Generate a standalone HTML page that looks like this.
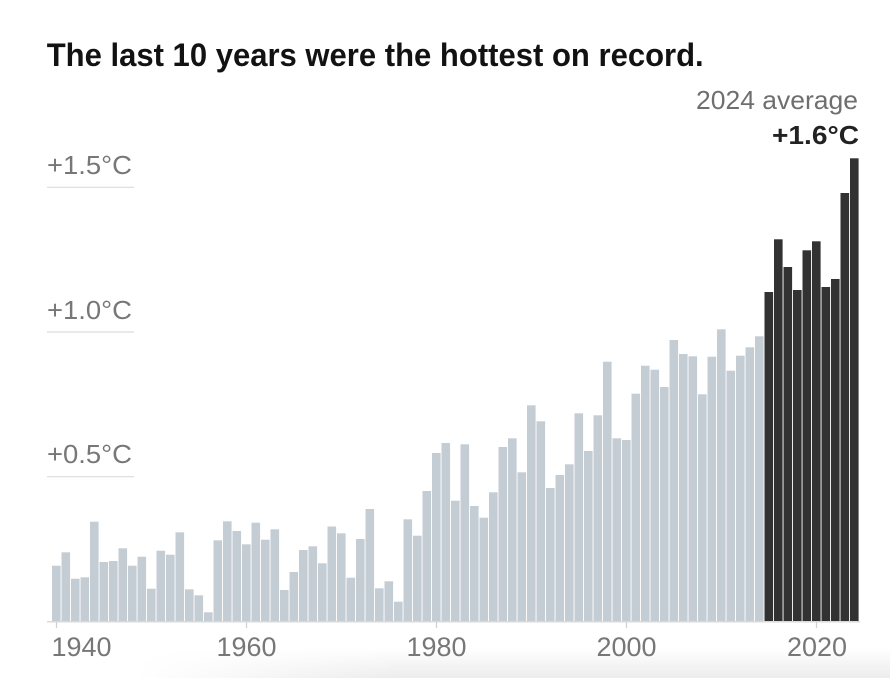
<!DOCTYPE html>
<html>
<head>
<meta charset="utf-8">
<style>
  html, body { margin: 0; padding: 0; background: #fff; }
  body { width: 890px; height: 678px; overflow: hidden; position: relative; }
  svg { display: block; position: absolute; left: 0; top: 0; }
  .shade {
    position: absolute; left: 0; top: 648px; width: 890px; height: 30px;
    background: linear-gradient(to bottom, rgba(0,0,0,0) 0%, rgba(0,0,0,0.075) 100%);
    -webkit-mask-image: linear-gradient(to right, rgba(0,0,0,0) 15%, rgba(0,0,0,1) 45%);
    mask-image: linear-gradient(to right, rgba(0,0,0,0) 15%, rgba(0,0,0,1) 45%);
  }
</style>
</head>
<body>
<div class="shade"></div>
<svg width="890" height="678" viewBox="0 0 890 678" xmlns="http://www.w3.org/2000/svg">
  <text x="46.7" y="66" font-family="Liberation Sans, sans-serif" font-weight="bold" font-size="32.5" fill="#121212" textLength="657" lengthAdjust="spacingAndGlyphs">The last 10 years were the hottest on record.</text>

  <text x="858" y="109" text-anchor="end" font-family="Liberation Sans, sans-serif" font-size="26" fill="#6f6f6f" textLength="162" lengthAdjust="spacingAndGlyphs">2024 average</text>
  <text x="859" y="144" text-anchor="end" font-family="Liberation Sans, sans-serif" font-weight="bold" font-size="26" fill="#222" textLength="87" lengthAdjust="spacingAndGlyphs">+1.6°C</text>

  <g font-family="Liberation Sans, sans-serif" font-size="26" fill="#777">
    <text x="47" y="174" textLength="85" lengthAdjust="spacingAndGlyphs">+1.5°C</text>
    <text x="47" y="319" textLength="85" lengthAdjust="spacingAndGlyphs">+1.0°C</text>
    <text x="47" y="463" textLength="85" lengthAdjust="spacingAndGlyphs">+0.5°C</text>
  </g>
  <g stroke="#dcdcdc" stroke-width="1.2">
    <line x1="47" y1="187.3" x2="134" y2="187.3"/>
    <line x1="47" y1="332" x2="134" y2="332"/>
    <line x1="47" y1="476.7" x2="134" y2="476.7"/>
  </g>

  <g id="bars"></g>

  <line x1="47" y1="621.8" x2="860" y2="621.8" stroke="#dadada" stroke-width="1.5"/>
  <g stroke="#d0d0d0" stroke-width="1.2">
    <line x1="56.5" y1="622" x2="56.5" y2="628"/>
    <line x1="246.5" y1="622" x2="246.5" y2="628"/>
    <line x1="436.5" y1="622" x2="436.5" y2="628"/>
    <line x1="626.5" y1="622" x2="626.5" y2="628"/>
    <line x1="816.5" y1="622" x2="816.5" y2="628"/>
  </g>
  <g font-family="Liberation Sans, sans-serif" font-size="27" fill="#777">
    <text x="51.5" y="656" textLength="60" lengthAdjust="spacingAndGlyphs">1940</text>
    <text x="246.5" y="656" text-anchor="middle" textLength="60" lengthAdjust="spacingAndGlyphs">1960</text>
    <text x="436.5" y="656" text-anchor="middle" textLength="60" lengthAdjust="spacingAndGlyphs">1980</text>
    <text x="626.5" y="656" text-anchor="middle" textLength="60" lengthAdjust="spacingAndGlyphs">2000</text>
    <text x="817" y="656" text-anchor="middle" textLength="60" lengthAdjust="spacingAndGlyphs">2020</text>
  </g>
</svg>
<script>
(function(){
  var tops = [565.7,552.3,578.7,577.3,521.7,562,561,548.3,565.7,556.7,
              588.7,550.7,554.7,532.3,589.3,595.3,612.3,540.3,521.3,531,
              544.3,522.7,539.7,529.3,590,572,550,546.3,563.3,526.5,
              533.3,577.7,539,509,588.3,581.3,601.7,519.3,535.7,491,
              453,443,500.7,444.3,506,517.7,492.3,447,438.3,472.3,
              405.3,421.3,488,475,464.3,413.3,451,415.3,361.7,438.3,
              440,393.7,365.7,369.7,387,340,354,356.3,394.3,356.7,
              329.3,370.7,355.7,347.3,336.3,292,239.3,267,290,250.3,
              241.3,287,279,193,158.3];
  var g = document.getElementById('bars');
  var ns = 'http://www.w3.org/2000/svg';
  var base = 621.2;
  for (var i = 0; i < tops.length; i++) {
    var r = document.createElementNS(ns, 'rect');
    r.setAttribute('x', (52 + 9.5 * i).toFixed(2));
    r.setAttribute('y', tops[i]);
    r.setAttribute('width', '8.6');
    r.setAttribute('height', (base - tops[i]).toFixed(2));
    r.setAttribute('fill', i >= 75 ? '#323232' : '#c5cdd4');
    g.appendChild(r);
  }
})();
</script>
</body>
</html>
